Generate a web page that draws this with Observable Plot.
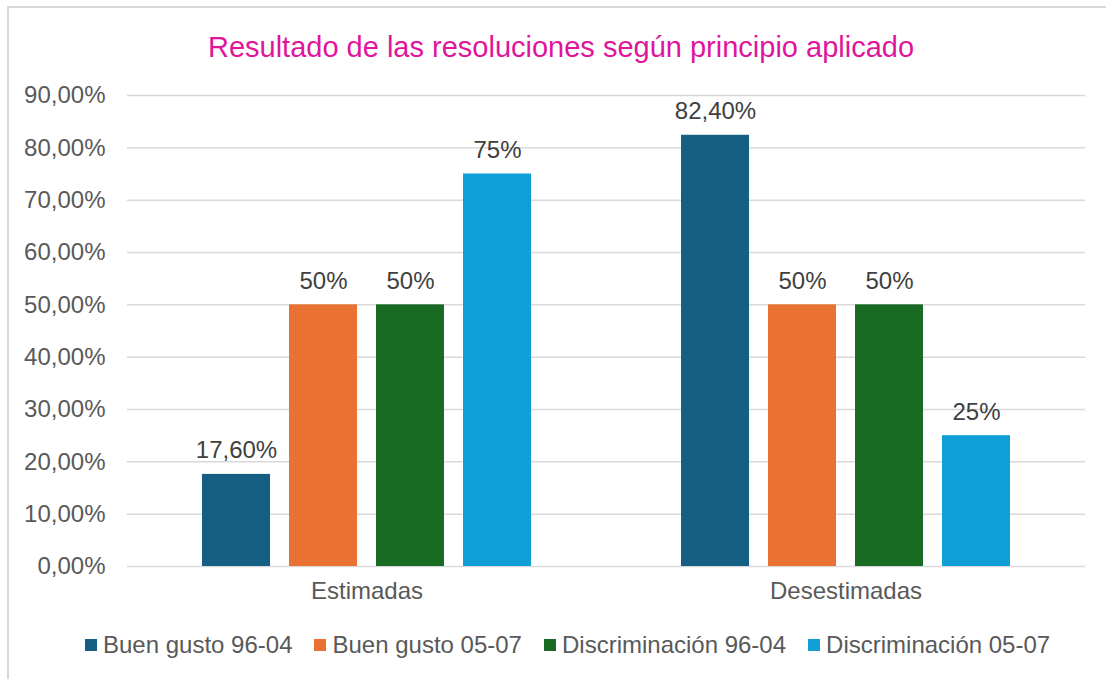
<!DOCTYPE html>
<html>
<head>
<meta charset="utf-8">
<script src="https://cdn.jsdelivr.net/npm/d3@7"></script>
<script src="https://cdn.jsdelivr.net/npm/@observablehq/plot@0.6"></script>
<style>
  html, body { margin: 0; padding: 0; background: #fff; }
  #wrap { position: relative; width: 1106px; height: 679px; overflow: hidden; font-family: "Liberation Sans", Arial, sans-serif; }
  #frame { position: absolute; left: 7px; top: 6px; width: 1200px; height: 800px; border: 2px solid #d9d9d9; box-sizing: border-box; }
  #title { position: absolute; left: 0; width: 1122px; top: 30px; line-height: 34px; text-align: center; font-size: 29px; color: #e0159b; white-space: nowrap; }
  #chart { position: absolute; left: 0; top: 60px; }
  #legend { position: absolute; left: 85px; top: 631px; line-height: 28px; display: flex; align-items: center; font-size: 24px; color: #595959; white-space: nowrap; }
  .item { display: flex; align-items: center; margin-right: 22px; }
  .sw { width: 12px; height: 12px; margin-right: 6px; }
</style>
</head>
<body>
<div id="wrap">
  <div id="frame"></div>
  <div id="title"></div>
  <div id="chart"></div>
  <div id="legend"></div>
</div>
<script>
const title = "Resultado de las resoluciones según principio aplicado";
const categories = ["Estimadas", "Desestimadas"];
const series = ["Buen gusto 96-04", "Buen gusto 05-07", "Discriminación 96-04", "Discriminación 05-07"];
const estimadas = [0.176, 0.5, 0.5, 0.75];
const desestimadas = [0.824, 0.5, 0.5, 0.25];
const labelsEstimadas = ["17,60%", "50%", "50%", "75%"];
const labelsDesestimadas = ["82,40%", "50%", "50%", "25%"];
const yTicks = [0, 0.1, 0.2, 0.3, 0.4, 0.5, 0.6, 0.7, 0.8, 0.9];
const yTickLabels = ["0,00%", "10,00%", "20,00%", "30,00%", "40,00%", "50,00%", "60,00%", "70,00%", "80,00%", "90,00%"];
const colors = ["#156082", "#e97132", "#196b24", "#0f9ed5"];

const data = [];
series.forEach((s, i) => data.push({cat: categories[0], series: s, value: estimadas[i], label: labelsEstimadas[i]}));
series.forEach((s, i) => data.push({cat: categories[1], series: s, value: desestimadas[i], label: labelsDesestimadas[i]}));

document.getElementById("title").textContent = title;

const chart = Plot.plot({
  width: 1106,
  height: 556,
  marginLeft: 127,
  marginRight: 21,
  marginTop: 35,
  marginBottom: 50,
  style: {fontFamily: "'Liberation Sans', Arial, sans-serif", fontSize: "24px", color: "#595959", background: "transparent"},
  fx: {domain: categories, padding: 0, label: null, axis: "bottom", tickSize: 0, tickPadding: 15},
  x: {domain: series, axis: null, paddingInner: 19 / 87, paddingOuter: 0.862},
  y: {domain: [0, 0.9], ticks: yTicks, tickFormat: d => yTickLabels[yTicks.findIndex(t => Math.abs(t - d) < 1e-9)], label: null, tickSize: 0, tickPadding: 22},
  color: {domain: series, range: colors},
  marks: [
    Plot.gridY(yTicks, {stroke: "#d9d9d9", strokeOpacity: 1, strokeWidth: 1.5}),
    Plot.barY(data, {fx: "cat", x: "series", y: "value", fill: "series"}),
    Plot.text(data, {fx: "cat", x: "series", y: "value", text: "label", lineAnchor: "bottom", dy: -16, fill: "#404040", fontSize: 24})
  ]
});
document.getElementById("chart").appendChild(chart);

const legend = document.getElementById("legend");
series.forEach((s, i) => {
  const item = document.createElement("div");
  item.className = "item";
  const sw = document.createElement("div");
  sw.className = "sw";
  sw.style.background = colors[i];
  const t = document.createElement("span");
  t.textContent = s;
  item.appendChild(sw);
  item.appendChild(t);
  legend.appendChild(item);
});
</script>
</body>
</html>
